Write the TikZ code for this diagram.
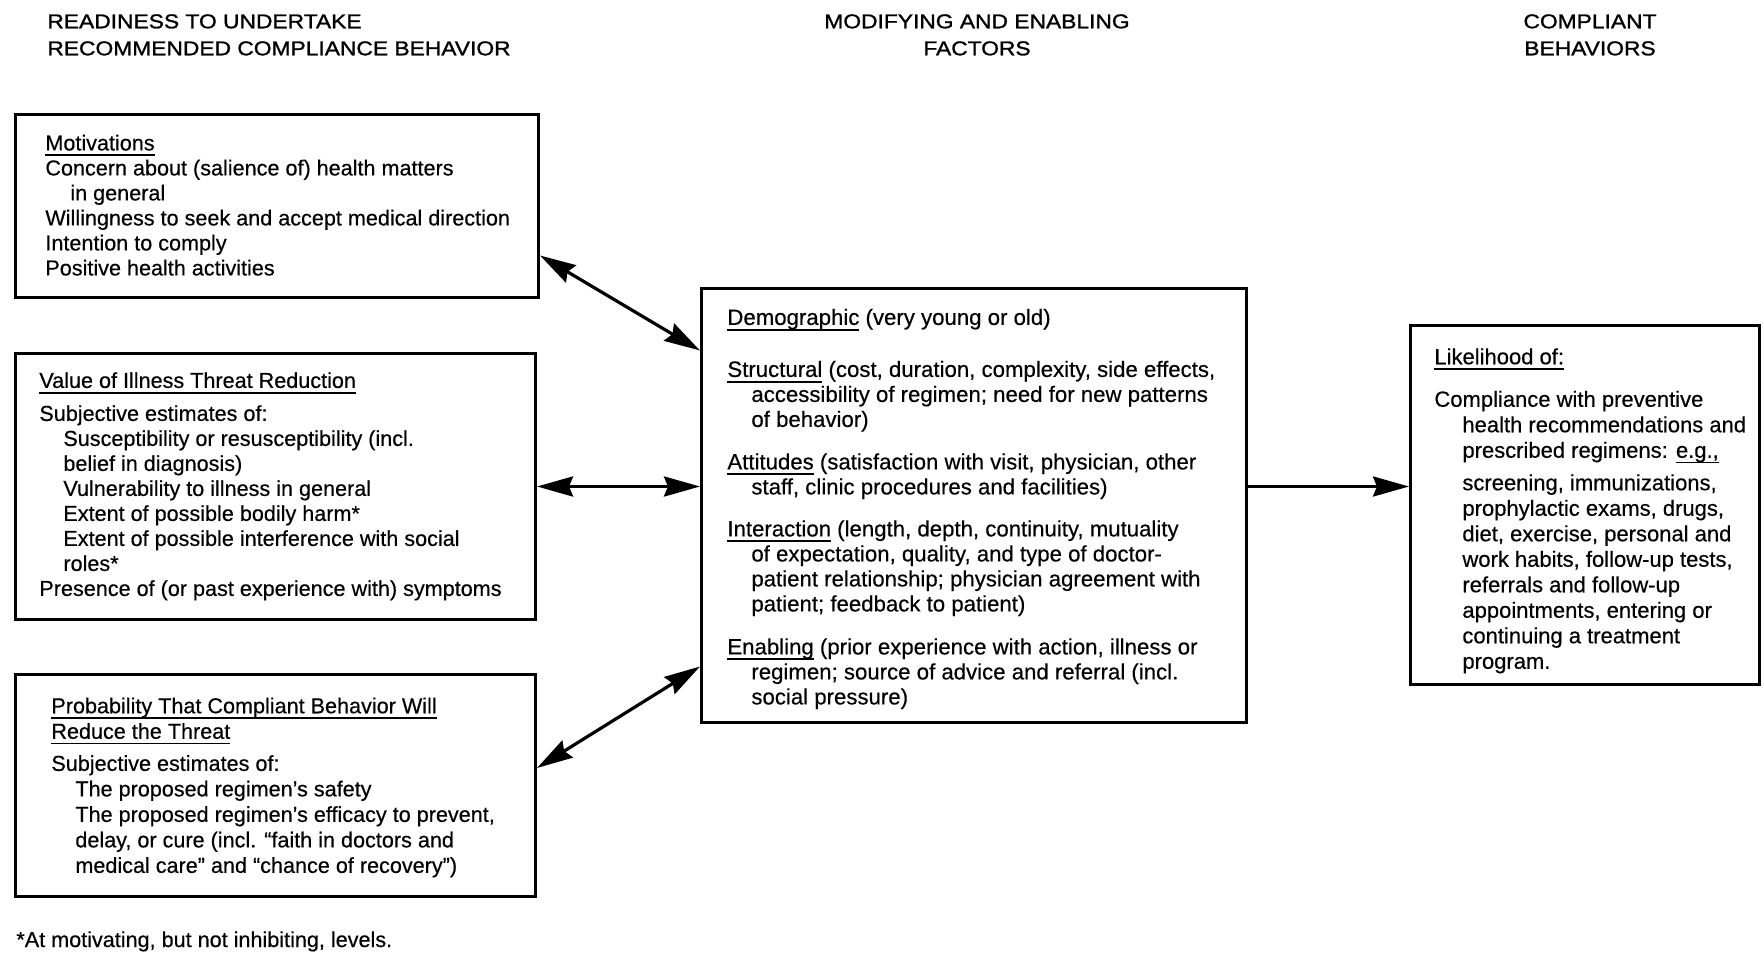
\documentclass[tikz,border=0pt]{standalone}
\usepackage{fontspec}
\setmainfont{Liberation Sans}[FakeBold=0.4]
\newfontfamily\hdrfam[FakeStretch=1.14,FakeBold=1.2]{Liberation Sans}
\usetikzlibrary{arrows.meta}
\newcommand\mybodyfont{\fontsize{10.8}{12.5}\selectfont}
\newcommand\myhdrfont{\hdrfam\fontsize{10}{13.5}\selectfont}
\newcommand\ind{\hspace*{12pt}}
\newcommand\uln[1]{\setbox0=\hbox{#1}\makebox[0pt][l]{\rule[-2.8pt]{\wd0}{0.9pt}}\box0\relax}
\tikzset{
  box/.style={draw, line width=1.5pt, inner sep=0pt, anchor=north west},
  txt/.style={anchor=north west, inner sep=0pt, align=left, font=\mybodyfont},
  hdr/.style={anchor=north, inner sep=0pt, align=center, font=\myhdrfont},
  tip/.tip={Stealth[length=18pt,width=10pt,inset=2pt]},
  link/.style={line width=1.6pt, tip-tip},
  onelink/.style={line width=1.6pt, -tip},
}
\begin{document}
\begin{tikzpicture}[x=0.5pt,y=-0.5pt]
\useasboundingbox (0,0) rectangle (1764,952);

% column headers
\node[hdr, anchor=north west, align=left] (h1) at (47,9) {\strut READINESS TO UNDERTAKE\\RECOMMENDED COMPLIANCE BEHAVIOR};
\node[hdr] (h2) at (977,9) {\strut MODIFYING AND ENABLING\\FACTORS};
\node[hdr] (h3) at (1590,9) {\strut COMPLIANT\\BEHAVIORS};

% boxes
\node[box, minimum width=261.5pt, minimum height=91.5pt] (b1) at (14,113) {};
\node[box, minimum width=260pt, minimum height=133pt] (b2) at (14,352) {};
\node[box, minimum width=260pt, minimum height=111pt] (b3) at (14,673) {};
\node[box, minimum width=272.5pt, minimum height=217pt] (cb) at (700,287) {};
\node[box, minimum width=174.5pt, minimum height=179.5pt] (rb) at (1409,324) {};

% box texts
\node[txt] (t1) at (45,132.5) {\strut\uln{Motivations}\\
Concern about (salience of) health matters\\
\hspace*{12.5pt}in general\\
Willingness to seek and accept medical direction\\
Intention to comply\\
Positive health activities};

\node[txt] (t2) at (39,370) {\strut\uln{Value of Illness Threat Reduction}\\[4pt]
Subjective estimates of:\\
\ind Susceptibility or resusceptibility (incl.\\
\ind belief in diagnosis)\\
\ind Vulnerability to illness in general\\
\ind Extent of possible bodily harm*\\
\ind Extent of possible interference with social\\
\ind roles*\\
Presence of (or past experience with) symptoms};

\node[txt, font=\fontsize{10.8}{12.75}\selectfont] (t3) at (51,695) {\strut\uln{Probability That Compliant Behavior Will}\\
\uln{Reduce the Threat}\\[3.3pt]
Subjective estimates of:\\
\ind The proposed regimen's safety\\
\ind The proposed regimen's efficacy to prevent,\\
\ind delay, or cure (incl. ``faith in doctors and\\
\ind medical care'' and ``chance of recovery'')};

\node[txt, font=\fontsize{11.1}{12.5}\selectfont] (tc) at (727,307) {\strut\uln{Demographic} (very young or old)\\[13.5pt]
\uln{Structural} (cost, duration, complexity, side effects,\\
\ind accessibility of regimen; need for new patterns\\
\ind of behavior)\\[8.75pt]
\uln{Attitudes} (satisfaction with visit, physician, other\\
\ind staff, clinic procedures and facilities)\\[8.5pt]
\uln{Interaction} (length, depth, continuity, mutuality\\
\ind of expectation, quality, and type of doctor-\\
\ind patient relationship; physician agreement with\\
\ind patient; feedback to patient)\\[9pt]
\uln{Enabling} (prior experience with action, illness or\\
\ind regimen; source of advice and referral (incl.\\
\ind social pressure)};

\node[txt, font=\fontsize{11}{12.75}\selectfont] (tr) at (1434,346) {\strut\uln{Likelihood of:}\\[8.5pt]
Compliance with preventive\\
\hspace*{14pt}health recommendations and\\
\hspace*{14pt}prescribed regimens: \uln{e.g.,}\\[3.5pt]
\hspace*{14pt}screening, immunizations,\\
\hspace*{14pt}prophylactic exams, drugs,\\
\hspace*{14pt}diet, exercise, personal and\\
\hspace*{14pt}work habits, follow-up tests,\\
\hspace*{14pt}referrals and follow-up\\
\hspace*{14pt}appointments, entering or\\
\hspace*{14pt}continuing a treatment\\
\hspace*{14pt}program.};

% footnote
\node[txt, anchor=base west] (fn) at (16,947) {*At motivating, but not inhibiting, levels.};

% connectors
\draw[link] ([yshift=-24.75pt]b1.east) -- ([yshift=77.5pt]cb.west);
\draw[link] (b2.east) -- (b2.east -| cb.west);
\draw[link] ([yshift=8.75pt]b3.east) -- ([yshift=-80.5pt]cb.west);
\draw[onelink] (cb.east |- b2.east) -- (rb.west |- b2.east);
\end{tikzpicture}
\end{document}
